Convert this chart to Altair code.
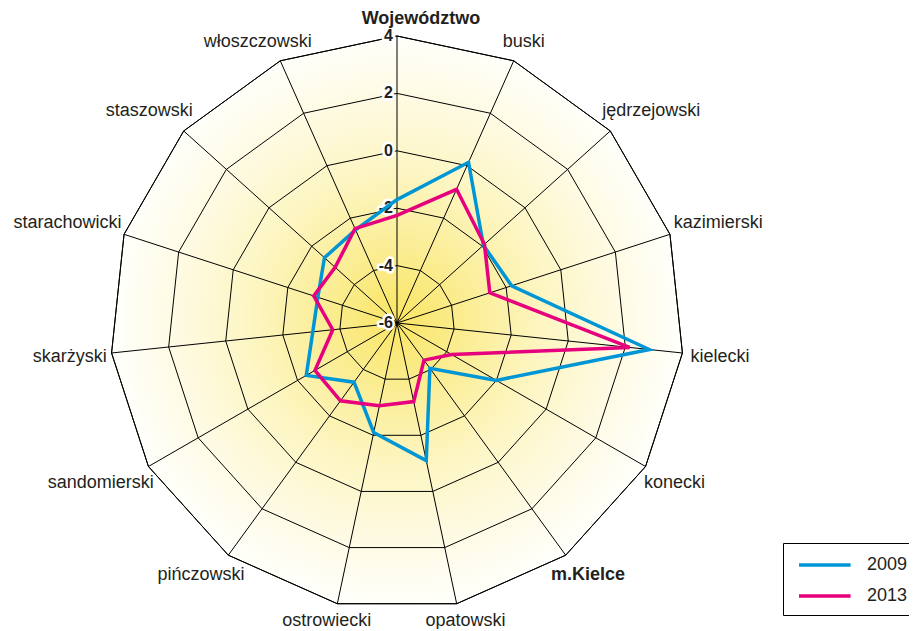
import altair as alt
import pandas as pd

categories = ["Województwo", "buski", "jędrzejowski", "kazimierski", "kielecki",
              "konecki", "m.Kielce", "opatowski", "ostrowiecki", "pińczowski",
              "sandomierski", "skarżyski", "starachowicki", "staszowski", "włoszczowski"]
bold_categories = ["Województwo", "m.Kielce"]
values_2009 = [-1.70, 0.13, -1.95, -1.80, 2.84, -2.00, -4.05, -1.10, -2.10, -3.45,
               -2.35, -3.05, -3.10, -2.60, -2.45]
values_2013 = [-2.25, -0.90, -1.90, -2.60, 2.15, -3.80, -4.40, -3.20, -3.05, -2.65,
               -2.70, -3.75, -2.95, -3.10, -2.40]
series_names = ["2009", "2013"]
series_colors = ["#0096d6", "#e6007e"]
ring_values = [-4, -2, 0, 2, 4]
tick_values = [4, 2, 0, -2, -4, -6]
axis_min, axis_max = -6, 4

N = len(categories)
FONT = "Liberation Sans"
TXT = "#231f20"

cat_df = pd.DataFrame({"idx": list(range(N)), "category": categories})
series_df = pd.concat([
    pd.DataFrame({"idx": list(range(N)), "category": categories,
                  "series": name, "value": vals})
    for name, vals in zip(series_names, [values_2009, values_2013])
], ignore_index=True)
grid_df = pd.DataFrame([{"idx": i, "value": v} for v in ring_values for i in range(N)])
tick_df = pd.DataFrame({"value": tick_values, "label": [str(v) for v in tick_values]})

xs = alt.Scale(domain=[-1, 1], nice=False, zero=False)
ys = alt.Scale(domain=[-1, 1], nice=False, zero=False)

theta_expr = f"datum.idx * 2 * PI / {N}"
r_expr = f"(datum.value - ({axis_min})) / ({axis_max - axis_min})"


def polar(chart):
    return chart.transform_calculate(
        theta=theta_expr
    ).transform_calculate(
        r=r_expr
    ).transform_calculate(
        px="datum.r * sin(datum.theta)",
        py="datum.r * cos(datum.theta)",
    )


X = alt.X("px:Q", scale=xs, axis=None)
Y = alt.Y("py:Q", scale=ys, axis=None)

gradient = alt.RadialGradient(
    gradient="radial",
    stops=[
        alt.GradientStop(color="#f9e563", offset=0),
        alt.GradientStop(color="#fbed94", offset=0.25),
        alt.GradientStop(color="#fdf5c0", offset=0.5),
        alt.GradientStop(color="#fefae0", offset=0.75),
        alt.GradientStop(color="#fffffb", offset=1),
    ],
    x1=0.5, y1=0.5, r1=0, x2=0.5, y2=0.5, r2=0.5,
)

outer_df = cat_df.assign(value=axis_max)
background = polar(alt.Chart(outer_df)).mark_line(
    interpolate="linear-closed", fill=gradient, stroke="black", strokeWidth=1
).encode(x=X, y=Y, order="idx:Q")

rings = polar(alt.Chart(grid_df)).mark_line(
    interpolate="linear-closed", color="black", strokeWidth=1
).encode(x=X, y=Y, detail="value:N", order="idx:Q")

spokes = polar(alt.Chart(outer_df)).transform_calculate(
    zero="0"
).mark_rule(color="black", strokeWidth=1).encode(
    x=alt.X("zero:Q", scale=xs, axis=None),
    y=alt.Y("zero:Q", scale=ys, axis=None),
    x2="px:Q", y2="py:Q",
)

tick_base = alt.Chart(tick_df).transform_calculate(
    r=r_expr
).transform_calculate(px="0", py="datum.r")
tick_halo = tick_base.mark_text(
    align="right", baseline="middle", dx=-4, fontSize=16, fontWeight="bold",
    font=FONT, stroke="white", strokeWidth=5, strokeJoin="round", fill="white"
).encode(x=X, y=Y, text="label:N")
tick_text = tick_base.mark_text(
    align="right", baseline="middle", dx=-4, fontSize=16, fontWeight="bold",
    font=FONT, color=TXT
).encode(x=X, y=Y, text="label:N")

lines = polar(alt.Chart(series_df)).mark_line(
    interpolate="linear-closed", strokeWidth=3.5, strokeJoin="miter"
).encode(
    x=X, y=Y, order="idx:Q",
    color=alt.Color(
        "series:N",
        scale=alt.Scale(domain=series_names, range=series_colors),
        legend=alt.Legend(
            title=None, orient="none", legendX=673, legendY=507,
            symbolType="M-0.6,0L4.56,0", symbolSize=400, symbolStrokeWidth=3.5,
            symbolFillColor="transparent",
            labelFont=FONT, labelFontSize=18, labelColor=TXT, labelOffset=50,
            rowPadding=10, padding=10, strokeColor="black",
        ),
    ),
)

label_base = alt.Chart(cat_df).transform_calculate(
    theta=theta_expr
).transform_calculate(
    px="(290 + length(datum.category) * 4.35) / 287 * sin(datum.theta)",
    py="(304 + 22 * pow(sin(datum.theta), 2)) / 287 * cos(datum.theta)",
)
labels_regular = label_base.transform_filter(
    alt.FieldOneOfPredicate(field="category", oneOf=bold_categories).__invert__()
).mark_text(align="center", baseline="middle", fontSize=18, font=FONT, color=TXT).encode(
    x=X, y=Y, text="category:N")
labels_bold_first = label_base.transform_filter(
    alt.datum.idx == 0
).mark_text(align="center", baseline="middle", fontSize=18, font=FONT, color=TXT,
            fontWeight="bold", dx=24).encode(x=X, y=Y, text="category:N")
labels_bold_other = label_base.transform_filter(
    alt.FieldOneOfPredicate(field="category", oneOf=bold_categories)
).transform_filter(alt.datum.idx != 0).mark_text(
    align="center", baseline="middle", fontSize=18, font=FONT, color=TXT,
    fontWeight="bold").encode(x=X, y=Y, text="category:N")

chart = alt.layer(
    background, rings, spokes, tick_halo, tick_text, lines,
    labels_regular, labels_bold_first, labels_bold_other
).properties(
    width=574, height=574,
    padding={"left": 102, "top": 28, "right": 225, "bottom": 19},
    autosize="none",
).configure_view(stroke=None)

chart.save("out.html", embed_options={"renderer": "svg", "actions": False})
